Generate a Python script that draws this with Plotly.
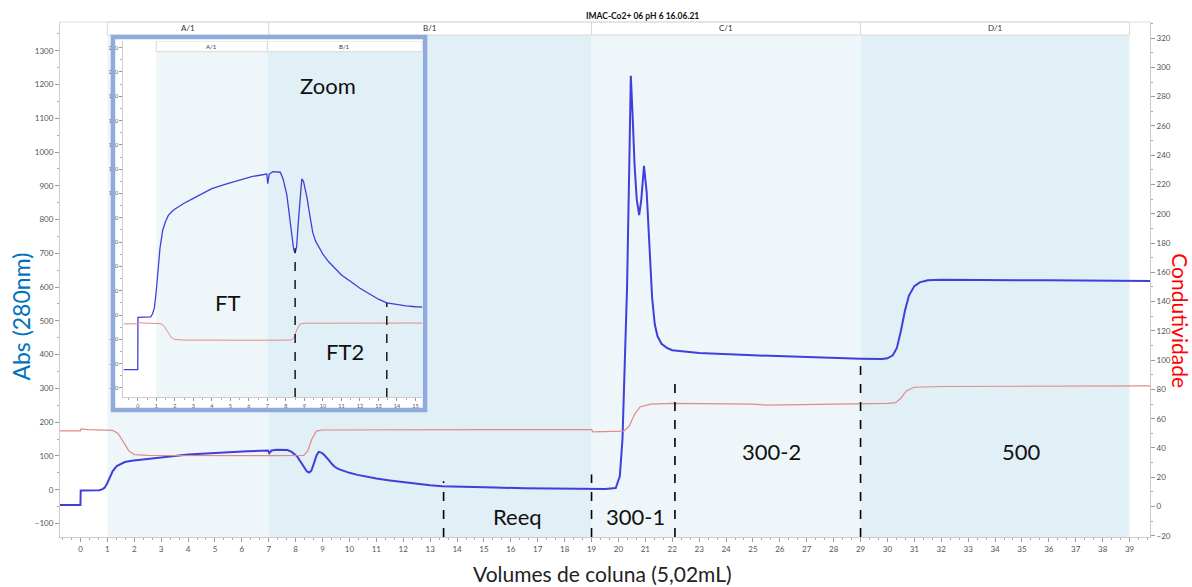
import plotly.graph_objects as go

# ---------------- data ----------------
abs_x = [-0.76, 0.0, 0.01, 0.3, 0.7, 0.8, 0.9, 1.0, 1.1, 1.2, 1.35, 1.5, 1.65, 1.9, 2.1, 2.5, 3.0, 3.5,
         4.0, 4.8, 5.5, 6.2, 6.97, 7.02, 7.1, 7.3, 7.7, 7.85, 8.05, 8.2, 8.32, 8.42, 8.5, 8.58, 8.68,
         8.78, 8.86, 8.95, 9.05, 9.15, 9.25, 9.35, 9.45, 9.6, 9.8, 10.0, 10.3, 10.6, 11.0, 11.5, 12.0,
         12.5, 13.0, 13.45, 14.0, 14.5, 15.0, 15.4, 16.5, 18.0, 19.0, 19.5, 19.9, 20.05, 20.15, 20.25,
         20.32, 20.4, 20.46, 20.52, 20.6, 20.68, 20.77, 20.85, 20.95, 21.05, 21.15, 21.25, 21.35,
         21.45, 21.6, 21.8, 22.0, 23.0, 25.0, 27.0, 29.0, 29.8, 30.0, 30.2, 30.35, 30.5, 30.65, 30.8,
         31.0, 31.2, 31.5, 32.0, 33.0, 36.0, 39.76]
abs_y = [-45, -45, -2, -2, -1.5, 1, 6, 20, 40, 55, 70, 77, 82, 86, 88, 92, 96, 100,
         104, 108, 111, 114, 116, 108, 116, 118, 117.5, 112, 99, 82, 66, 54, 51, 56, 78,
         102, 112, 110, 104, 96, 86, 76, 68, 61, 55, 50, 44, 39, 33, 27.5, 22,
         17.5, 13, 10, 8.5, 7.5, 6.8, 6.3, 4.5, 3, 2.5, 2.5, 5, 40, 150, 380,
         600, 950, 1226, 1120, 960, 860, 813, 860, 959, 880, 720, 570, 490,
         455, 432, 420, 413, 405, 398, 392, 388, 387, 389, 398, 420, 470, 530, 575,
         603, 614, 620, 622, 622, 620, 618]

cond_x = [-0.76, 0.0, 0.02, 0.3, 1.2, 1.4, 1.6, 1.8, 2.0, 2.5, 7.0, 7.02, 7.05, 8.3, 8.45, 8.6, 8.77,
          9.0, 15.0, 19.0, 19.05, 20.2, 20.4, 20.6, 20.8, 21.2, 22.0, 25.0, 25.5, 26.5, 27.0, 30.0,
          30.3, 30.5, 30.7, 31.0, 32.0, 39.76]
cond_y = [51.7, 51.7, 53, 52.5, 52, 50, 44, 38, 35.5, 35, 34.8, 35.5, 34.8, 35, 38, 46, 51.5,
          52.3, 52.5, 52.5, 51, 51.5, 55, 63, 68, 70, 70.5, 70, 69.3, 69.5, 70, 70.5,
          71, 74, 79, 81.5, 82, 82.5]

zone_names = ["A/1", "B/1", "C/1", "D/1"]
zone_start = [1, 7, 19, 29]
zone_end = [7, 19, 29, 39]
zone_fill = ["#EFF6FA", "#E1EFF6", "#EFF6FA", "#E1EFF6"]

inset_zone_names = ["A/1", "B/1"]
inset_zone_start = [1, 7]
inset_zone_end = [7, 15.37]
inset_zone_fill = ["#EFF6FA", "#E1EFF6"]

main_cut_x = [13.5, 19.0, 22.1, 29.0]
main_cut_top = [25, 45, 330, 372]
inset_cut_x = [8.5, 13.45]
inset_cut_top = [55, 10]

main_labels = ["Reeq", "300-1", "300-2", "500"]
main_label_x = [16.23, 20.65, 25.7, 35.0]
main_label_y = [-80, -80, 112, 112]

inset_labels = ["Zoom", "FT", "FT2"]
inset_label_x = [10.3, 4.83, 11.2]
inset_label_y = [189, 10, -30]

# ---------------- axes ranges ----------------
X_RANGE = [-0.76, 39.76]
Y_RANGE = [-140, 1385]
Y2_RANGE = [-20.8, 331]
IX_RANGE = [-0.78, 15.37]
IY_RANGE = [-67.5, 225.5]
IY2_RANGE = [-23.6, 342.6]

BLUE = "#3F3FDB"
RED = "#E28A8A"
FONT = "Lato"

fig = go.Figure()
fig.add_trace(go.Scatter(x=abs_x, y=abs_y, mode="lines", line=dict(color=BLUE, width=2),
                         xaxis="x", yaxis="y", showlegend=False, hoverinfo="skip"))
fig.add_trace(go.Scatter(x=cond_x, y=cond_y, mode="lines", line=dict(color=RED, width=1.2),
                         xaxis="x", yaxis="y2", showlegend=False, hoverinfo="skip"))
fig.add_trace(go.Scatter(x=[], y=[], mode="lines", xaxis="x2", yaxis="y3",
                         showlegend=False, hoverinfo="skip"))
fig.add_trace(go.Scatter(x=abs_x, y=abs_y, mode="lines", line=dict(color=BLUE, width=1.3),
                         xaxis="x3", yaxis="y4", showlegend=False, hoverinfo="skip"))
fig.add_trace(go.Scatter(x=cond_x, y=cond_y, mode="lines", line=dict(color=RED, width=1),
                         xaxis="x3", yaxis="y5", showlegend=False, hoverinfo="skip"))

shapes = []
annotations = []

MAIN_HDR = 0.9748
for n, s, e, c in zip(zone_names, zone_start, zone_end, zone_fill):
    shapes.append(dict(type="rect", xref="x", yref="y domain", x0=s, x1=e, y0=0, y1=MAIN_HDR,
                       fillcolor=c, line=dict(width=0), layer="below"))
for n, s, e in zip(zone_names, zone_start, zone_end):
    shapes.append(dict(type="rect", xref="x", yref="y domain", x0=s, x1=e, y0=MAIN_HDR, y1=1,
                       fillcolor="white", line=dict(color="#D9D9D9", width=1), layer="below"))
    annotations.append(dict(text=n, x=(s + e) / 2, xref="x", y=(MAIN_HDR + 1) / 2, yref="y domain",
                            showarrow=False, xanchor="center", yanchor="middle",
                            font=dict(size=8, color="#333", family=FONT)))
shapes.append(dict(type="line", xref="paper", yref="paper", x0=0, x1=1, y0=1, y1=1,
                   line=dict(color="#DDDDDD", width=1), layer="below"))

for cx, ct in zip(main_cut_x, main_cut_top):
    shapes.append(dict(type="line", xref="x", yref="y", x0=cx, x1=cx, y0=Y_RANGE[0], y1=ct,
                       line=dict(color="black", width=1.6, dash="dash")))

# inset zones
ihdr_lo = IY_RANGE[0] + 0.97 * (IY_RANGE[1] - IY_RANGE[0])
for s, e, c in zip(inset_zone_start, inset_zone_end, inset_zone_fill):
    shapes.append(dict(type="rect", xref="x3", yref="y4", x0=s, x1=e, y0=IY_RANGE[0], y1=ihdr_lo,
                       fillcolor=c, line=dict(width=0), layer="below"))
for n, s, e in zip(inset_zone_names, inset_zone_start, inset_zone_end):
    shapes.append(dict(type="rect", xref="x3", yref="y4", x0=s, x1=e, y0=ihdr_lo, y1=IY_RANGE[1],
                       fillcolor="white", line=dict(color="#D9D9D9", width=1), layer="below"))
    annotations.append(dict(text=n, x=(s + e) / 2, xref="x3", y=(ihdr_lo + IY_RANGE[1]) / 2, yref="y4",
                            showarrow=False, xanchor="center", yanchor="middle",
                            font=dict(size=6, color="#333", family=FONT)))
for cx, ct in zip(inset_cut_x, inset_cut_top):
    shapes.append(dict(type="line", xref="x3", yref="y4", x0=cx, x1=cx, y0=IY_RANGE[0], y1=ct,
                       line=dict(color="#222", width=1.6, dash="dash")))

# inset border
shapes.append(dict(type="rect", xref="x2 domain", yref="y3 domain", x0=0, x1=1, y0=0, y1=1,
                   line=dict(color="#8FAADC", width=4.5), fillcolor="rgba(0,0,0,0)", layer="above"))

for t, x, y in zip(main_labels, main_label_x, main_label_y):
    annotations.append(dict(text=t, x=x, y=y, xref="x", yref="y", showarrow=False,
                            xanchor="center", yanchor="middle",
                            font=dict(size=22, color="#111", family=FONT)))
for t, x, y in zip(inset_labels, inset_label_x, inset_label_y):
    annotations.append(dict(text=t, x=x, y=y, xref="x3", yref="y4", showarrow=False,
                            xanchor="center", yanchor="middle",
                            font=dict(size=22, color="#111", family=FONT)))

annotations.append(dict(text="<b>IMAC-Co2+ 06 pH 6 16.06.21</b>", x=0.534, y=1.0117, xref="paper",
                        yref="paper", showarrow=False, xanchor="center", yanchor="middle",
                        font=dict(size=8.5, color="#111", family=FONT)))
annotations.append(dict(text="Volumes de coluna (5,02mL)", x=0.498, y=-0.0718, xref="paper",
                        yref="paper", showarrow=False, xanchor="center", yanchor="middle",
                        font=dict(size=21, color="#222", family=FONT)))
annotations.append(dict(text="Abs (280nm)", x=-0.0353, y=0.427, xref="paper", yref="paper",
                        showarrow=False, xanchor="center", yanchor="middle", textangle=-90,
                        font=dict(size=23, color="#0070C0", family=FONT)))
annotations.append(dict(text="Condutividade", x=1.0284, y=0.419, xref="paper", yref="paper",
                        showarrow=False, xanchor="center", yanchor="middle", textangle=90,
                        font=dict(size=21, color="#FF0000", family=FONT)))

tick_common = dict(ticks="outside", ticklen=4, tickcolor="#999", showline=True, linecolor="#CCCCCC",
                   showgrid=False, zeroline=False, tickfont=dict(size=8, color="#555", family=FONT))
itick_common = dict(ticks="outside", ticklen=3, tickcolor="#999", showline=True, linecolor="#CCCCCC",
                    showgrid=False, zeroline=False, tickfont=dict(size=5.5, color="#555", family=FONT))

fig.update_layout(
    width=1192, height=587,
    margin=dict(l=60, r=42, t=22, b=50),
    paper_bgcolor="white", plot_bgcolor="white",
    showlegend=False,
    xaxis=dict(range=X_RANGE, domain=[0, 1], anchor="y", tickmode="linear", tick0=0, dtick=1,
               minor=dict(dtick=1 / 3, ticklen=2, tickcolor="#AAA", ticks="outside"), **tick_common),
    yaxis=dict(range=Y_RANGE, domain=[0, 1], anchor="x", tickmode="linear", tick0=0, dtick=100,
               minor=dict(dtick=50, ticklen=2, tickcolor="#AAA", ticks="outside"), **tick_common),
    yaxis2=dict(range=Y2_RANGE, overlaying="y", side="right", anchor="x", tickmode="linear",
                tick0=0, dtick=20, minor=dict(dtick=10, ticklen=2, tickcolor="#AAA", ticks="outside"),
                **tick_common),
    xaxis2=dict(domain=[0.0486, 0.3349], anchor="y3", range=[0, 1], visible=False),
    yaxis3=dict(domain=[0.2466, 0.9709], anchor="x2", range=[0, 1], visible=False),
    xaxis3=dict(domain=[0.0581, 0.3324], anchor="y4", range=IX_RANGE, tickmode="linear", tick0=0,
                dtick=1, minor=dict(dtick=0.5, ticklen=2, tickcolor="#AAA", ticks="outside"),
                **itick_common),
    yaxis4=dict(domain=[0.2718, 0.9631], anchor="x3", range=IY_RANGE, tickmode="linear", tick0=0,
                dtick=20, minor=dict(dtick=10, ticklen=2, tickcolor="#AAA", ticks="outside"),
                **itick_common),
    yaxis5=dict(range=IY2_RANGE, overlaying="y4", anchor="x3", visible=False),
    shapes=shapes,
    annotations=annotations,
)

fig.write_html("out.html")
